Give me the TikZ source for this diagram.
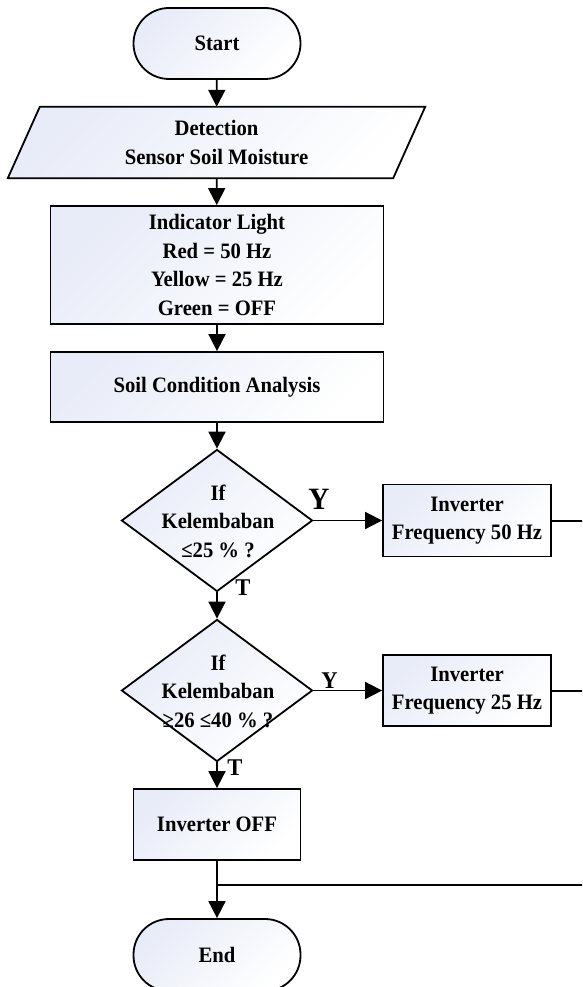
\documentclass[tikz,border=0pt]{standalone}
\usepackage{fontspec}
\setmainfont{Liberation Serif}[FakeStretch=0.94]
\usetikzlibrary{shapes.geometric,arrows.meta,backgrounds}
\definecolor{fillA}{RGB}{232,236,248}
\begin{document}
\begin{tikzpicture}[x=1pt,y=-1pt,
  every node/.style={font=\bfseries\fontsize{22}{28.5}\selectfont, align=center, inner sep=0pt},
  shaded/.style={draw, line width=1.8pt, left color=fillA, right color=white, shading angle=45},
  procbox/.style={shaded, rectangle},
  termbox/.style={shaded, rectangle, rounded corners=35.5pt, minimum width=167pt, minimum height=71pt},
  decide/.style={shaded, diamond, minimum width=191pt, minimum height=142pt},
  arr/.style={line width=1.8pt, -{Triangle[length=17pt,width=17pt]}},
  plain/.style={line width=2pt},
  lbl/.style={font=\bfseries\fontsize{24}{24}\selectfont}
]
\useasboundingbox (0,0) rectangle (582,987);
\clip (0,0) rectangle (582,987);

\node[termbox] (start) at (217,43.5) {Start};
\node[minimum width=385pt, minimum height=71pt] (det) at (216.5,142.5) {Detection\\Sensor Soil Moisture};
\begin{scope}[on background layer]
  \path[shaded] ([xshift=16pt]det.north west) -- ([xshift=16pt]det.north east)
     -- ([xshift=-16pt]det.south east) -- ([xshift=-16pt]det.south west) -- cycle;
\end{scope}
\node[procbox, minimum width=333pt, minimum height=118pt] (ind) at (217,265)
  {Indicator Light\\Red = 50 Hz\\Yellow = 25 Hz\\Green = OFF};
\node[procbox, minimum width=333pt, minimum height=70pt] (soil) at (217,387) {Soil Condition Analysis};
\node[decide] (d1) at (217,520.5) {};
\node (d1t) at (218,521) {If\\Kelembaban\\≤25 \% ?};
\node[procbox, minimum width=168pt, minimum height=72pt] (inv50) at (467,520.5) {Inverter\\Frequency 50 Hz};
\node[decide] (d2) at (217,690.5) {};
\node (d2t) at (218,691) {If\\Kelembaban\\≥26 ≤40 \% ?};
\node[procbox, minimum width=168pt, minimum height=71pt] (inv25) at (467,690.5) {Inverter\\Frequency 25 Hz};
\node[procbox, minimum width=167pt, minimum height=71pt] (off) at (217,824.5) {Inverter OFF};
\node[termbox, minimum height=72pt] (end) at (217,955) {End};

\coordinate (r1) at (600,520.5);
\coordinate (r2) at (600,690.5);
\coordinate (r3) at (600,884.5);

\draw[arr] (start) -- (det);
\draw[arr] (det) -- (ind);
\draw[arr] (ind) -- (soil);
\draw[arr] (soil) -- (d1);
\draw[arr] (d1) -- (d2);
\draw[arr] (d2) -- (off);
\draw[arr] (off) -- (end);
\draw[arr] (d1) -- (inv50);
\draw[arr] (d2) -- (inv25);
\draw[plain] (inv50) -- (r1);
\draw[plain] (inv25) -- (r2);
\draw[plain] (r3) -- (off.south |- r3);

\node[font=\bfseries\fontsize{31}{31}\selectfont] (y1) at (319,499) {Y};
\node[lbl] (t1) at (243,588) {T};
\node[lbl, fill=white, inner sep=1pt] (y2) at (329.5,681) {Y};
\node[lbl, fill=white, inner sep=0.5pt] (t2) at (235,768) {T};
\end{tikzpicture}
\end{document}
